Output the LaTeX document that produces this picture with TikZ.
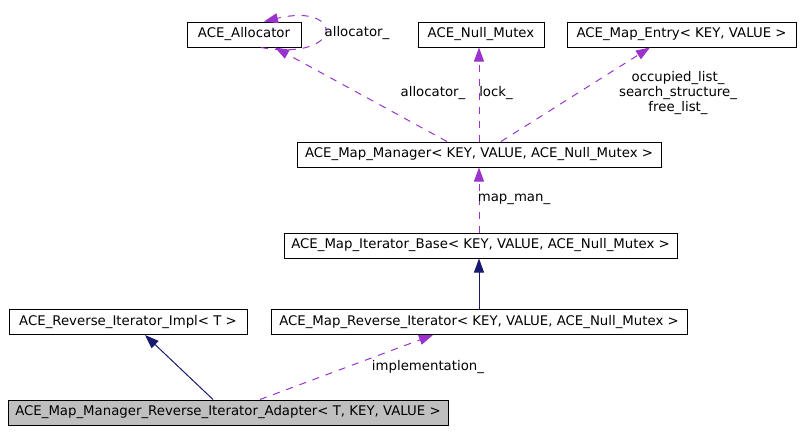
\documentclass[tikz,border=0pt]{standalone}
\usepackage{fontspec}
\setmainfont{DejaVu Sans}
\usetikzlibrary{arrows.meta}
\definecolor{edgepurple}{HTML}{9A32CD}
\definecolor{edgenavy}{HTML}{191970}
\tikzset{
  cls/.style={draw=black, line width=1pt, minimum height=25pt, inner sep=0pt, font=\fontsize{13.3}{16}\selectfont},
  lbl/.style={inner sep=0pt, font=\fontsize{13.3}{15}\selectfont, align=center},
  usage/.style={draw=edgepurple, line width=1pt, dash pattern=on 7pt off 7pt, -{Triangle[length=14pt,width=10pt,fill=edgepurple]}},
  inherit/.style={draw=edgenavy, line width=1pt, -{Triangle[length=14pt,width=10pt,fill=edgenavy]}}
}
\begin{document}
\begin{tikzpicture}[x=1pt,y=-1pt]
\useasboundingbox (0,0) rectangle (805,432);
\node[cls, minimum width=114pt] (alloc) at (244,34.5) {ACE\_Allocator};
\node[cls, minimum width=126pt] (mutex) at (481,34.5) {ACE\_Null\_Mutex};
\node[cls, minimum width=229pt] (entry) at (681.5,34.5) {ACE\_Map\_Entry< KEY, VALUE >};
\node[cls, minimum width=364pt] (mgr) at (479,154.5) {ACE\_Map\_Manager< KEY, VALUE, ACE\_Null\_Mutex >};
\node[cls, minimum width=393pt] (base) at (480.5,245.5) {ACE\_Map\_Iterator\_Base< KEY, VALUE, ACE\_Null\_Mutex >};
\node[cls, minimum width=238pt] (impl) at (128,322) {ACE\_Reverse\_Iterator\_Impl< T >};
\node[cls, minimum width=416pt] (rev) at (479,322) {ACE\_Map\_Reverse\_Iterator< KEY, VALUE, ACE\_Null\_Mutex >};
\node[cls, minimum width=440pt, fill={rgb,255:red,191;green,191;blue,191}] (adapter) at (228,412.5) {ACE\_Map\_Manager\_Reverse\_Iterator\_Adapter< T, KEY, VALUE >};

% edges
\draw[inherit] ([xshift=-15pt]adapter.north) -- ([xshift=17pt]impl.south);
\draw[usage] ([xshift=32pt]adapter.north) -- ([xshift=-46pt]rev.south);
\draw[inherit] (rev.north) -- ([xshift=-1.5pt]base.south);
\draw[usage] ([xshift=-1.5pt]base.north) -- (mgr.south);
\draw[usage] ([xshift=-32pt]mgr.north) -- ([xshift=31pt]alloc.south);
\draw[usage] (mgr.north) -- ([xshift=-2pt]mutex.south);
\draw[usage] ([xshift=22pt]mgr.north) -- ([xshift=-31.5pt]entry.south);
\draw[usage] ([xshift=17pt]alloc.south) .. controls (345,62) and (345,2) .. ([xshift=20pt]alloc.north);

% labels
\node[lbl] (l1) at (357,33) {allocator\_};
\node[lbl] (l2) at (433,93) {allocator\_};
\node[lbl] (l3) at (496,93) {lock\_};
\node[lbl] (l4) at (678,93) {occupied\_list\_\\search\_structure\_\\free\_list\_};
\node[lbl] (l5) at (514,199) {map\_man\_};
\node[lbl] (l6) at (428,367) {implementation\_};
\end{tikzpicture}
\end{document}
